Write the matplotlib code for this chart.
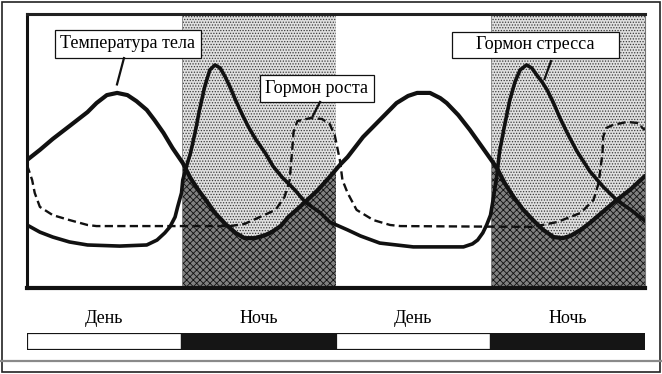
import matplotlib
matplotlib.use("Agg")
import matplotlib.pyplot as plt
from matplotlib.patches import Rectangle
from matplotlib.lines import Line2D

plt.rcParams['font.family'] = ['Liberation Serif', 'DejaVu Serif']
plt.rcParams['hatch.linewidth'] = 0.6

# время, ч (0..48) и относительный уровень (0..100)
temp_t = [0.0, 1.0, 2.0, 3.3, 4.7, 5.4, 6.2, 7.0, 7.8, 8.5, 9.3, 9.9, 10.6, 11.3, 12.1,
          12.7, 13.3, 14.0, 14.6, 15.4, 16.2, 16.9, 17.7, 18.5, 19.0, 19.7, 20.3, 21.0,
          21.6, 22.6, 23.5, 24.3, 24.9, 26.1, 27.4, 28.7, 29.6, 30.3, 31.3, 32.1, 32.6,
          33.5, 34.4, 35.4, 36.5, 37.1, 37.8, 38.5, 39.3, 40.1, 40.9, 41.6, 42.2, 43.0,
          43.7, 44.7, 45.8, 46.9, 48.0]
temp_v = [46.7, 50.4, 54.4, 59.1, 64.2, 67.5, 70.4, 71.2, 70.4, 68.2, 65.0, 61.3, 56.6,
          51.1, 45.6, 40.1, 35.8, 31.4, 27.4, 23.4, 20.1, 18.2, 18.2, 19.3, 20.4, 22.6,
          25.9, 28.8, 31.4, 35.8, 40.5, 44.9, 47.8, 55.1, 61.3, 67.5, 70.1, 71.2, 71.2,
          69.3, 67.5, 63.1, 57.7, 51.1, 43.8, 38.3, 33.2, 28.8, 24.8, 21.2, 18.6, 18.2,
          19.0, 21.2, 23.7, 27.7, 32.1, 36.1, 40.9]

stress_t = [0.0, 1.0, 2.0, 3.3, 4.7, 7.2, 9.3, 10.1, 10.7, 11.1, 11.5, 11.7, 12.0, 12.1,
            12.35, 12.7, 13.05, 13.4, 13.8, 14.2, 14.6, 15.0, 15.4, 15.8, 16.2, 16.7, 17.2,
            17.8, 18.5, 19.1, 19.8, 20.8, 21.6, 22.8, 23.5, 24.9, 25.9, 27.4, 30.0, 33.9,
            34.6, 35.0, 35.4, 35.7, 36.0, 36.2, 36.5, 36.7, 37.1, 37.5, 37.9, 38.3, 38.8,
            39.2, 39.6, 40.0, 40.4, 40.9, 41.4, 42.0, 42.7, 43.7, 44.7, 45.8, 46.9, 48.0]
stress_v = [23.0, 20.4, 18.6, 16.8, 15.7, 15.3, 15.7, 17.5, 20.1, 22.3, 25.9, 29.6, 34.7,
            39.4, 43.8, 49.3, 56.6, 65.0, 73.4, 79.6, 81.4, 80.3, 77.0, 73.0, 68.6, 63.5,
            58.8, 54.0, 49.3, 44.5, 40.5, 35.8, 31.4, 27.4, 24.1, 21.2, 19.0, 16.4, 15.0,
            15.0, 16.1, 17.5, 20.1, 23.0, 26.6, 32.1, 41.2, 49.6, 59.5, 68.6, 75.2, 79.6,
            81.4, 80.3, 77.7, 75.2, 72.3, 67.5, 62.0, 56.2, 50.0, 42.7, 37.2, 32.1, 28.5,
            24.5]

growth_t = [0.0, 0.4, 0.6, 1.0, 2.0, 3.3, 4.7, 5.4, 15.8, 16.9, 17.9, 19.3, 20.0, 20.4,
            20.6, 20.7, 21.0, 22.0, 22.9, 23.5, 23.9, 24.3, 24.5, 24.9, 25.6, 26.9, 28.2,
            29.0, 39.3, 41.2, 43.0, 44.0, 44.4, 44.7, 44.75, 45.0, 45.5, 46.6, 47.5, 47.8, 48.0]
growth_v = [44.9, 39.4, 34.7, 29.6, 26.6, 24.8, 23.0, 22.6, 22.6, 23.4, 25.5, 28.5, 33.2, 39.4,
            50.4, 56.9, 60.9, 62.0, 61.7, 59.9, 55.8, 46.7, 39.4, 34.7, 28.5, 24.8, 23.0,
            22.6, 22.3, 24.1, 27.4, 32.1, 38.3, 49.3, 55.1, 58.4, 59.5, 60.6, 60.2, 58.4, 57.7]

periods = ['День', 'Ночь', 'День', 'Ночь']
period_start = [0, 12, 24, 36]
period_len = 12

fig = plt.figure(figsize=(6.62, 3.74), dpi=100)

# внешняя рамка и серая линия
fig.patches.append(Rectangle((2 / 662, 2 / 374), 658 / 662, 370 / 374,
                             transform=fig.transFigure, fill=False, ec='#222', lw=1.2))
fig.add_artist(Line2D([0, 1], [1 - 361 / 374] * 2, transform=fig.transFigure,
                      color='#8a8a8a', lw=1.6))

ax = fig.add_axes([27 / 662, 86 / 374, 618 / 662, 274 / 374])
ax.set_xlim(0, 48)
ax.set_ylim(0, 100)
ax.set_xticks([])
ax.set_yticks([])
for side, lw, col in [('left', 2.2, '#111'), ('top', 2.2, '#222'),
                      ('bottom', 3.0, '#111'), ('right', 0.8, '#777')]:
    ax.spines[side].set_linewidth(lw)
    ax.spines[side].set_color(col)

# ночь: точки над температурой, сетка под ней
for name, s in zip(periods, period_start):
    if name != 'Ночь':
        continue
    for lo, hi, fc, hatch, ec in [(temp_v, 100, '#e0e0e0', '......', '#3a3a3a'),
                                  (0, temp_v, '#808080', 'xxxxx', '#111111')]:
        f = ax.fill_between(temp_t, lo, hi, facecolor=fc, hatch=hatch,
                            edgecolor=ec, linewidth=0, zorder=1)
        clip = Rectangle((s, 0), period_len, 100, transform=ax.transData)
        f.set_clip_path(clip)
    ax.axvline(s, color='#888', lw=0.6, zorder=1.5)

ax.plot(growth_t, growth_v, color='#111', lw=1.7, dashes=(3.5, 1.8), zorder=3)
ax.plot(stress_t, stress_v, color='#111', lw=2.6, solid_capstyle='round',
        solid_joinstyle='round', zorder=4)
ax.plot(temp_t, temp_v, color='#111', lw=3.0, solid_capstyle='round',
        solid_joinstyle='round', zorder=5)

box = dict(boxstyle='square,pad=0.3', fc='white', ec='#111', lw=0.9)
ax.text(7.84, 89.1, 'Температура тела', ha='center', va='center', fontsize=13, bbox=box, zorder=6)
ax.text(22.5, 72.8, 'Гормон роста', ha='center', va='center', fontsize=13, bbox=box, zorder=6)
ax.add_patch(Rectangle((33.0, 83.9), 13.0, 9.5, fc='white', ec='#111', lw=0.9, zorder=6))
ax.text(39.5, 88.7, 'Гормон стресса', ha='center', va='center', fontsize=13, zorder=7)
ax.plot([7.53, 6.99], [83.9, 74.3], color='#111', lw=1.6, zorder=6)
ax.plot([22.76, 22.2], [67.9, 62.8], color='#111', lw=1.6, zorder=6)
ax.plot([40.7, 40.2], [82.8, 76.3], color='#111', lw=1.6, zorder=6)

# полоса день/ночь
ax2 = fig.add_axes([27 / 662, 24 / 374, 618 / 662, 17 / 374])
ax2.set_xlim(0, 48)
ax2.set_ylim(0, 1)
ax2.axis('off')
colors = ['white' if p == 'День' else '#151515' for p in periods]
ax2.barh(0.5, [period_len] * len(periods), left=period_start, height=1.0,
         color=colors, edgecolor='#151515', linewidth=1.6)
for name, s in zip(periods, period_start):
    ax2.text(s + period_len / 2, 1.85, name, ha='center', va='center',
             fontsize=13, transform=ax2.transData, clip_on=False)

fig.savefig('out.png', dpi=100)
